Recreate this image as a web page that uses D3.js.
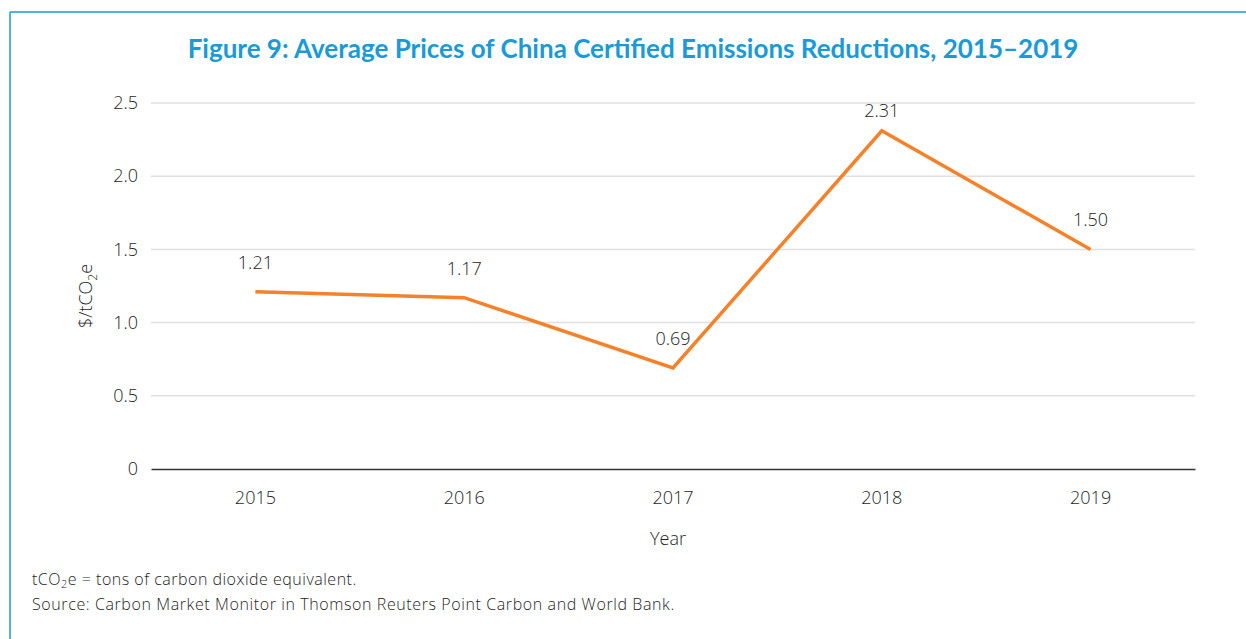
<!DOCTYPE html>
<html>
<head>
<meta charset="utf-8">
<script src="https://cdn.jsdelivr.net/npm/d3@7"></script>
<style>
  html, body { margin: 0; padding: 0; background: #fff; }
  svg { display: block; }
  text { font-family: "Open Sans", Lato, sans-serif; font-weight: 300; fill: #1e1e1e; }
</style>
</head>
<body>
<svg id="chart" width="1246" height="639"></svg>
<script>
// Average CCER prices, $/tCO2e
const years = ["2015", "2016", "2017", "2018", "2019"];
const prices = [1.21, 1.17, 0.69, 2.31, 1.50];
const yTicks = [0, 0.5, 1.0, 1.5, 2.0, 2.5];
const titleText = "Figure 9: Average Prices of China Certified Emissions Reductions, 2015–2019";
const xAxisTitle = "Year";
const sourceText = "Source: Carbon Market Monitor in Thomson Reuters Point Carbon and World Bank.";

const svg = d3.select("#chart");
const W = 1246, H = 639;
const blue = "#1a9ad6";
const orange = "#f5822a";
const ink = "#1e1e1e";
const bodyFont = "\"Open Sans\", Lato, sans-serif";

// Frame: top and left rules
svg.append("line").attr("x1", 10).attr("x2", W).attr("y1", 12).attr("y2", 12)
  .attr("stroke", blue).attr("stroke-width", 1.5);
svg.append("line").attr("x1", 10).attr("x2", 10).attr("y1", 12).attr("y2", H)
  .attr("stroke", blue).attr("stroke-width", 1.5);

// Title
svg.append("text").attr("x", 633).attr("y", 58).attr("text-anchor", "middle")
  .style("font-family", "Lato, sans-serif")
  .style("font-size", "26px").style("font-weight", 700).style("fill", blue)
  .text(titleText);

const m = { left: 151, right: 1195, top: 103, bottom: 469 };
const x = d3.scaleBand().domain(years).range([m.left, m.right]);
const y = d3.scaleLinear().domain([0, 2.5]).range([m.bottom, m.top]);

// Gridlines
svg.append("g").selectAll("line").data(yTicks.filter(d => d > 0)).join("line")
  .attr("x1", m.left).attr("x2", m.right)
  .attr("y1", d => y(d)).attr("y2", d => y(d))
  .attr("stroke", "#e0e0e0").attr("stroke-width", 1.5);

// Y axis labels
const yAxis = d3.axisLeft(y).tickValues(yTicks)
  .tickFormat(d => d === 0 ? "0" : d3.format(".1f")(d)).tickSize(0).tickPadding(13);
const gy = svg.append("g").attr("transform", `translate(${m.left},0)`).call(yAxis);
gy.select(".domain").remove();
gy.selectAll("text").style("font-size", "18px").style("font-family", bodyFont)
  .style("font-weight", 300).attr("fill", ink);

// X axis
const xAxis = d3.axisBottom(x).tickSize(0).tickPadding(22);
const gx = svg.append("g").attr("transform", `translate(0,${m.bottom})`).call(xAxis);
gx.select(".domain").attr("stroke", "#333").attr("stroke-width", 1.5);
gx.selectAll("text").style("font-size", "18px").style("font-family", bodyFont)
  .style("font-weight", 300).attr("fill", ink);

// Axis titles
svg.append("text").attr("x", x("2017") + x.bandwidth() / 2 - 5).attr("y", 545)
  .attr("text-anchor", "middle").style("font-size", "18px").text(xAxisTitle);

const yl = svg.append("text")
  .attr("transform", "translate(92,296) rotate(-90)")
  .attr("text-anchor", "middle").style("font-size", "18px");
yl.append("tspan").text("$/tCO");
yl.append("tspan").attr("dy", 5).style("font-size", "12px").text("2");
yl.append("tspan").attr("dy", -5).text("e");

// Price line
const cx = d => x(d) + x.bandwidth() / 2;
const line = d3.line().x((d, i) => cx(years[i])).y(d => y(d));
svg.append("path").datum(prices).attr("d", line)
  .attr("fill", "none").attr("stroke", orange).attr("stroke-width", 3.5)
  .attr("stroke-linejoin", "miter");

// Value labels
svg.append("g").selectAll("text").data(prices).join("text")
  .attr("x", (d, i) => cx(years[i]))
  .attr("y", d => Math.max(y(d) - 23, 117))
  .attr("text-anchor", "middle").style("font-size", "18px")
  .text(d => d3.format(".2f")(d));

// Notes
const note = svg.append("text").attr("x", 32).attr("y", 585)
  .style("font-size", "16px").style("letter-spacing", "0.5px");
note.append("tspan").text("tCO");
note.append("tspan").attr("dy", 3).style("font-size", "11px").text("2");
note.append("tspan").attr("dy", -3).text("e = tons of carbon dioxide equivalent.");
svg.append("text").attr("x", 32).attr("y", 610)
  .style("font-size", "16px").style("letter-spacing", "0.6px").text(sourceText);
</script>
</body>
</html>
